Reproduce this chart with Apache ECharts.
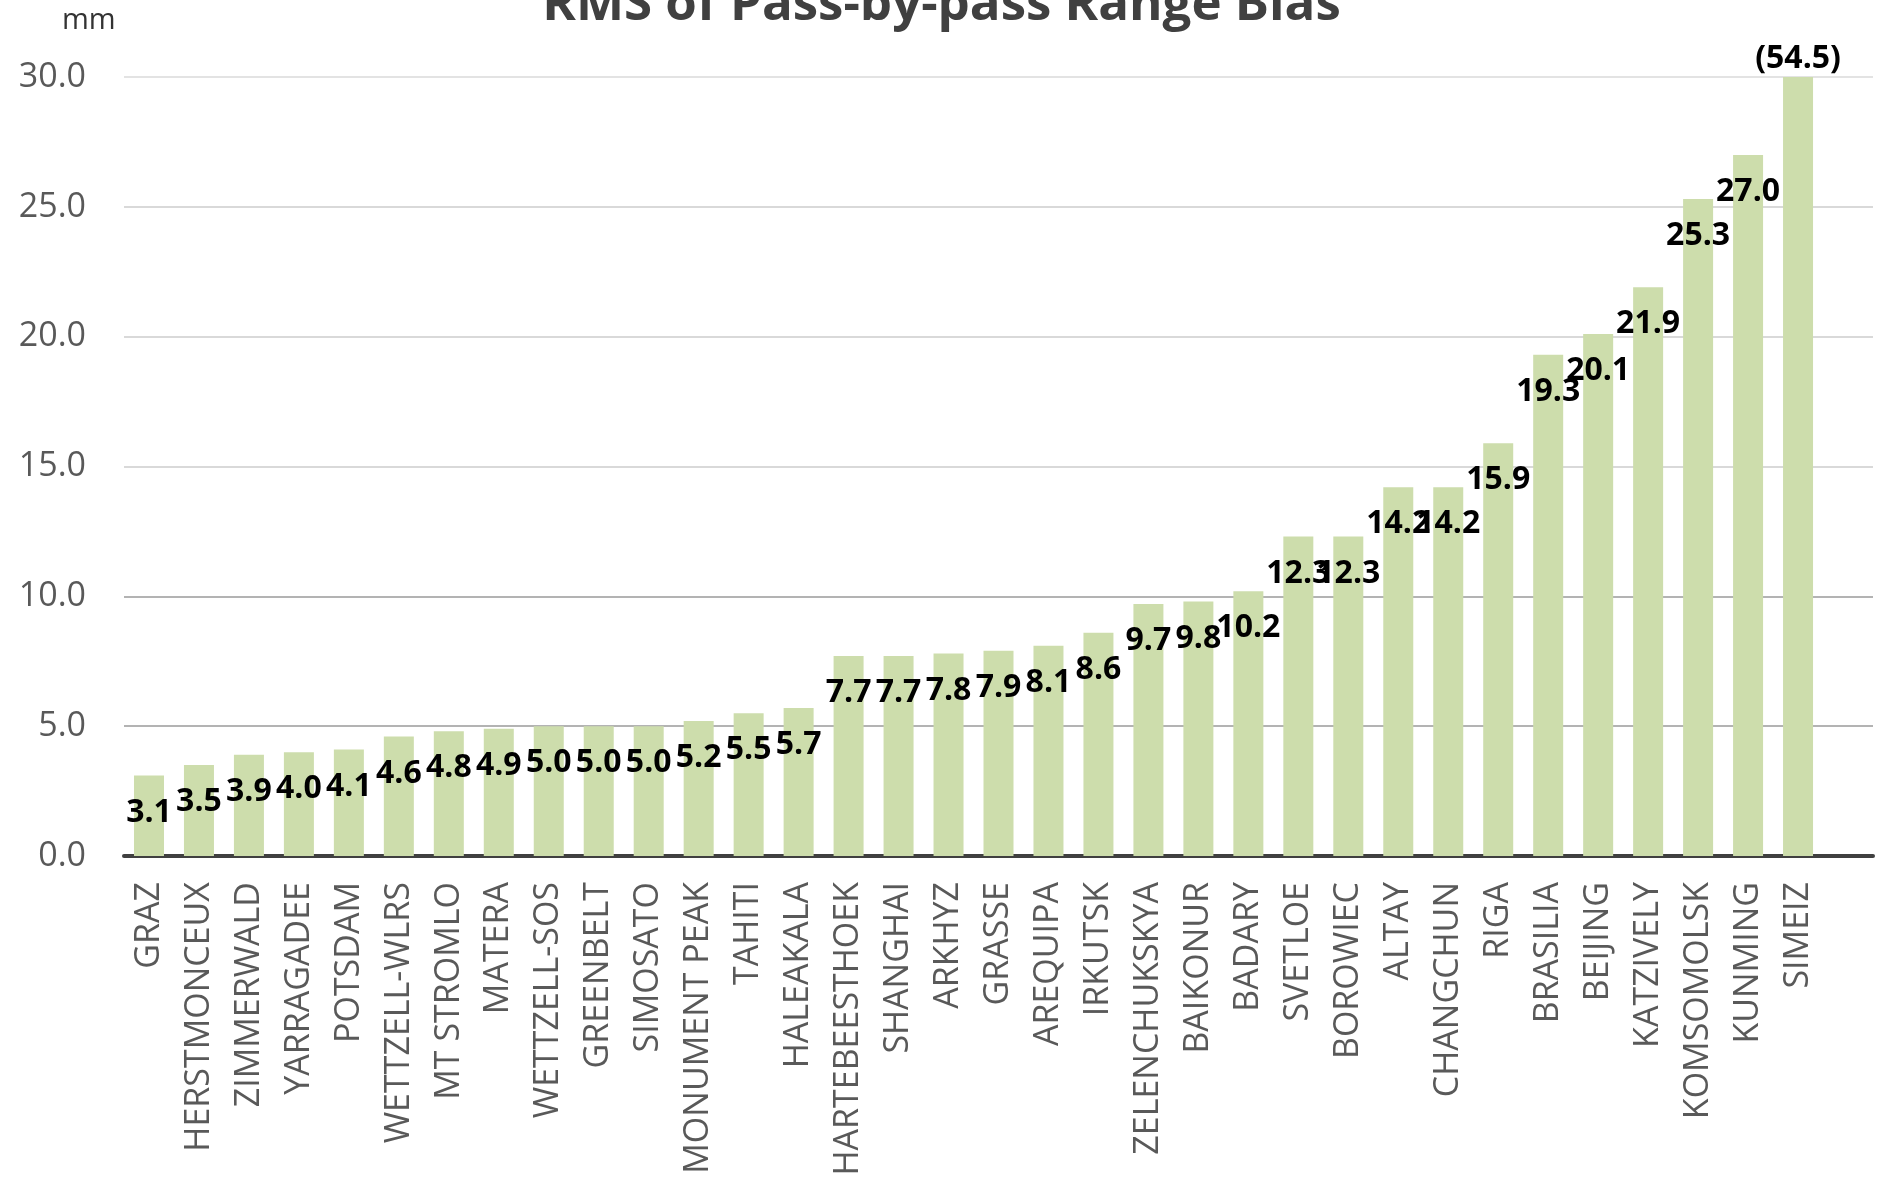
<!DOCTYPE html>
<html>
<head>
<meta charset="utf-8">
<script src="https://cdn.jsdelivr.net/npm/echarts@6/dist/echarts.min.js"></script>
<style>
html,body{margin:0;padding:0;background:#fff;}
#chart{width:1883px;height:1189px;}
</style>
</head>
<body>
<div id="chart"></div>
<script>
const categories = ['GRAZ','HERSTMONCEUX','ZIMMERWALD','YARRAGADEE','POTSDAM','WETTZELL-WLRS','MT STROMLO','MATERA','WETTZELL-SOS','GREENBELT','SIMOSATO','MONUMENT PEAK','TAHITI','HALEAKALA','HARTEBEESTHOEK','SHANGHAI','ARKHYZ','GRASSE','AREQUIPA','IRKUTSK','ZELENCHUKSKYA','BAIKONUR','BADARY','SVETLOE','BOROWIEC','ALTAY','CHANGCHUN','RIGA','BRASILIA','BEIJING','KATZIVELY','KOMSOMOLSK','KUNMING','SIMEIZ'];
const rmsValues = [3.1,3.5,3.9,4.0,4.1,4.6,4.8,4.9,5.0,5.0,5.0,5.2,5.5,5.7,7.7,7.7,7.8,7.9,8.1,8.6,9.7,9.8,10.2,12.3,12.3,14.2,14.2,15.9,19.3,20.1,21.9,25.3,27.0,54.5];
const yMin = 0;
const yMax = 30;
const yInterval = 5;
const titleText = 'RMS of Pass-by-pass Range Bias';
const unitText = 'mm';

const chart = echarts.init(document.getElementById('chart'), null, {renderer: 'canvas'});

const barData = rmsValues.map(function (v) {
  if (v > yMax) {
    return {value: yMax, label: {position: 'top', distance: 2}};
  }
  return {value: v};
});

const option = {
  animation: false,
  backgroundColor: '#ffffff',
  title: {
    text: titleText,
    left: 'center',
    top: -25,
    textStyle: {
      fontFamily: 'Open Sans',
      fontWeight: 'bold',
      fontSize: 51,
      color: '#404040'
    }
  },
  graphic: [{
    type: 'text',
    left: 62,
    top: 6,
    style: {
      text: unitText,
      fontFamily: 'Open Sans',
      fontSize: 29,
      fill: '#333333'
    }
  }],
  grid: {
    left: 124,
    right: 10,
    top: 77,
    bottom: 333,
    containLabel: false
  },
  xAxis: {
    type: 'category',
    data: categories,
    max: categories.length,
    boundaryGap: true,
    axisLine: {show: true, lineStyle: {color: '#404040', width: 4}},
    axisTick: {show: false},
    axisLabel: {
      interval: 0,
      rotate: 90,
      margin: 26,
      fontFamily: 'Open Sans',
      fontSize: 34,
      color: '#595959',
      formatter: function (value, index) {
        return index < categories.length ? categories[index] : '';
      }
    },
    splitLine: {show: false}
  },
  yAxis: {
    type: 'value',
    min: yMin,
    max: yMax,
    interval: yInterval,
    axisLine: {show: false},
    axisTick: {show: false},
    axisLabel: {
      margin: 38,
      fontFamily: 'Open Sans',
      fontSize: 34,
      color: '#595959',
      formatter: function (v) { return v.toFixed(1); }
    },
    splitLine: {
      show: true,
      lineStyle: {
        color: ['#bfbfbf', '#b3b3b3', '#b3b3b3', '#d9d9d9', '#d9d9d9', '#d9d9d9', '#e3e3e3'],
        width: 2
      }
    }
  },
  series: [{
    type: 'bar',
    data: barData,
    barWidth: 30,
    itemStyle: {color: '#CDDDAC'},
    label: {
      show: true,
      position: 'insideTop',
      distance: 21,
      fontFamily: 'Open Sans',
      fontWeight: 'bold',
      fontSize: 32,
      color: '#000000',
      formatter: function (p) {
        const raw = rmsValues[p.dataIndex];
        return raw > yMax ? '(' + raw.toFixed(1) + ')' : raw.toFixed(1);
      }
    },
    labelLayout: {hideOverlap: false}
  }]
};

chart.setOption(option);
</script>
</body>
</html>
